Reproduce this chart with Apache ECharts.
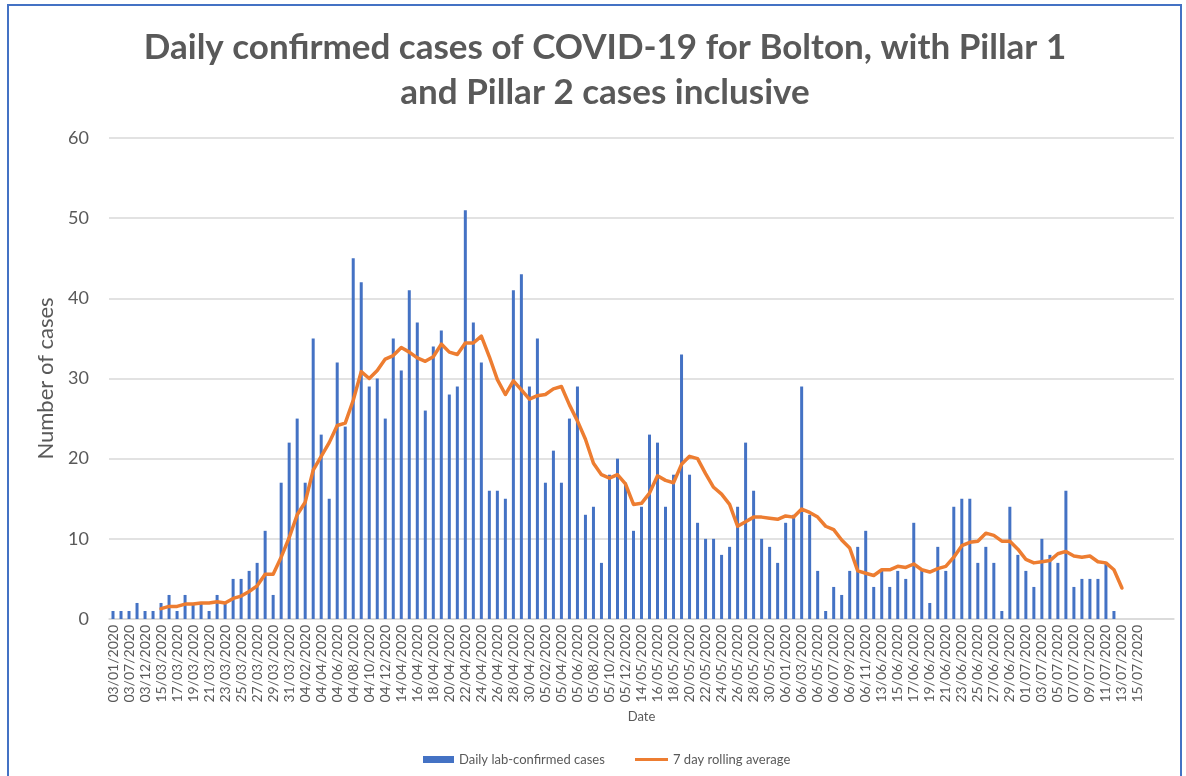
<!DOCTYPE html>
<html>
<head>
<meta charset="utf-8">
<script src="https://cdn.jsdelivr.net/npm/echarts@6/dist/echarts.min.js"></script>
<style>
html,body{margin:0;padding:0;background:#fff;}
#chart{width:1186px;height:776px;}
</style>
</head>
<body>
<div id="chart"></div>
<script>
const titleText = "Daily confirmed cases of COVID-19 for Bolton, with Pillar 1\nand Pillar 2 cases inclusive";
const yAxisName = "Number of cases";
const xAxisName = "Date";
const barName = "Daily lab-confirmed cases";
const lineName = "7 day rolling average";

const categories = [
"03/01/2020","03/05/2020","03/07/2020","03/10/2020","03/12/2020","14/03/2020",
"15/03/2020","16/03/2020","17/03/2020","18/03/2020","19/03/2020","20/03/2020","21/03/2020","22/03/2020","23/03/2020","24/03/2020","25/03/2020","26/03/2020","27/03/2020","28/03/2020","29/03/2020","30/03/2020","31/03/2020",
"04/01/2020","04/02/2020","04/03/2020","04/04/2020","04/05/2020","04/06/2020","04/07/2020","04/08/2020","04/09/2020","04/10/2020","04/11/2020","04/12/2020",
"13/04/2020","14/04/2020","15/04/2020","16/04/2020","17/04/2020","18/04/2020","19/04/2020","20/04/2020","21/04/2020","22/04/2020","23/04/2020","24/04/2020","25/04/2020","26/04/2020","27/04/2020","28/04/2020","29/04/2020","30/04/2020",
"05/01/2020","05/02/2020","05/03/2020","05/04/2020","05/05/2020","05/06/2020","05/07/2020","05/08/2020","05/09/2020","05/10/2020","05/11/2020","05/12/2020",
"13/05/2020","14/05/2020","15/05/2020","16/05/2020","17/05/2020","18/05/2020","19/05/2020","20/05/2020","21/05/2020","22/05/2020","23/05/2020","24/05/2020","25/05/2020","26/05/2020","27/05/2020","28/05/2020","29/05/2020","30/05/2020","31/05/2020",
"06/01/2020","06/02/2020","06/03/2020","06/04/2020","06/05/2020","06/06/2020","06/07/2020","06/08/2020","06/09/2020","06/10/2020","06/11/2020","06/12/2020",
"13/06/2020","14/06/2020","15/06/2020","16/06/2020","17/06/2020","18/06/2020","19/06/2020","20/06/2020","21/06/2020","22/06/2020","23/06/2020","24/06/2020","25/06/2020","26/06/2020","27/06/2020","28/06/2020","29/06/2020","30/06/2020",
"01/07/2020","02/07/2020","03/07/2020","04/07/2020","05/07/2020","06/07/2020","07/07/2020","08/07/2020","09/07/2020","10/07/2020","11/07/2020","12/07/2020","13/07/2020","14/07/2020","15/07/2020",
"","","",""
];

const dailyCases = [
1,1,1,2,1,1,2,3,1,3,2,2,1,3,2,5,5,6,7,11,3,17,22,25,17,35,23,15,32,24,
45,42,29,30,25,35,31,41,37,26,34,36,28,29,51,37,32,16,16,15,41,43,29,35,17,21,17,25,29,13,
14,7,18,20,17,11,14,23,22,14,18,33,18,12,10,10,8,9,14,22,16,10,9,7,12,13,29,13,6,1,
4,3,6,9,11,4,6,4,6,5,12,6,2,9,6,14,15,15,7,9,7,1,14,8,6,4,10,8,7,16,4,5,5,5,7,1,
null,null,null,null,null,null,null
];

const rollingAvg = [
null,null,null,null,null,null,
1.29,1.57,1.57,1.86,1.86,2.0,2.0,2.14,2.0,2.57,2.86,3.43,4.14,5.57,5.57,7.71,10.14,13.0,14.57,18.57,20.29,22.0,24.14,24.43,
27.29,30.86,30.0,31.0,32.43,32.86,33.86,33.29,32.57,32.14,32.71,34.29,33.29,33.0,34.43,34.43,35.29,32.71,29.86,28.0,29.71,28.57,27.43,27.86,28.0,28.71,29.0,26.71,24.71,22.43,
19.43,18.0,17.57,18.0,16.86,14.29,14.43,15.71,17.86,17.29,17.0,19.29,20.29,20.0,18.14,16.43,15.57,14.29,11.57,12.14,12.71,12.71,12.57,12.43,12.86,12.71,13.71,13.29,12.71,11.57,
11.14,9.86,8.86,6.0,5.71,5.43,6.14,6.14,6.57,6.43,6.86,6.14,5.86,6.29,6.57,7.71,9.14,9.57,9.71,10.71,10.43,9.71,9.71,8.71,7.43,7.0,7.14,7.29,8.14,8.43,7.86,7.71,7.86,7.14,7.0,6.14,3.86,
null,null,null,null,null,null
];

const FONT = 'Lato';
const TXT = '#595959';

const chart = echarts.init(document.getElementById('chart'), null, {renderer: 'canvas'});
chart.setOption({
  animation: false,
  backgroundColor: '#ffffff',
  textStyle: {fontFamily: FONT},
  graphic: [{
    type: 'rect', z: 100, silent: true,
    shape: {x: 8, y: 5, width: 1173, height: 820},
    style: {fill: 'none', stroke: '#4472C4', lineWidth: 2}
  }],
  title: {
    text: titleText,
    left: 600, top: 20, textAlign: 'center',
    textStyle: {fontFamily: FONT, fontSize: 35, fontWeight: 'bold', color: TXT, lineHeight: 45}
  },
  legend: [{
    left: 418, top: 748,
    itemWidth: 31, itemHeight: 7,
    textStyle: {fontFamily: FONT, fontSize: 13, color: TXT},
    data: [{name: barName, icon: 'rect'}]
  }, {
    left: 630, top: 748,
    itemWidth: 33, itemHeight: 3,
    textStyle: {fontFamily: FONT, fontSize: 13, color: TXT},
    data: [{name: lineName, icon: 'rect'}]
  }],
  grid: {left: 109, right: 12, top: 138, bottom: 157, containLabel: false},
  xAxis: {
    type: 'category',
    data: categories,
    boundaryGap: true,
    name: xAxisName,
    nameLocation: 'middle',
    nameGap: 91,
    nameTextStyle: {fontFamily: FONT, fontSize: 13, color: TXT},
    axisTick: {show: false},
    axisLine: {show: true, lineStyle: {color: '#D9D9D9', width: 1.5}},
    axisLabel: {interval: 1, rotate: 90, fontSize: 14, color: TXT, fontFamily: FONT, margin: 6}
  },
  yAxis: {
    type: 'value',
    min: 0, max: 60, interval: 10,
    name: yAxisName,
    nameLocation: 'middle',
    nameRotate: 90,
    nameGap: 52,
    nameTextStyle: {fontFamily: FONT, fontSize: 22, color: TXT},
    axisLine: {show: false},
    axisTick: {show: false},
    axisLabel: {fontSize: 18, color: TXT, fontFamily: FONT, margin: 20},
    splitLine: {lineStyle: {color: '#D9D9D9', width: 1.5}}
  },
  series: [
    {
      name: barName,
      type: 'bar',
      data: dailyCases,
      barWidth: 3,
      itemStyle: {color: '#4472C4'}
    },
    {
      name: lineName,
      type: 'line',
      data: rollingAvg,
      symbol: 'none',
      showSymbol: false,
      connectNulls: false,
      lineStyle: {color: '#ED7D31', width: 3.5, join: 'round', cap: 'round'},
      itemStyle: {color: '#ED7D31'}
    }
  ]
});
</script>
</body>
</html>
